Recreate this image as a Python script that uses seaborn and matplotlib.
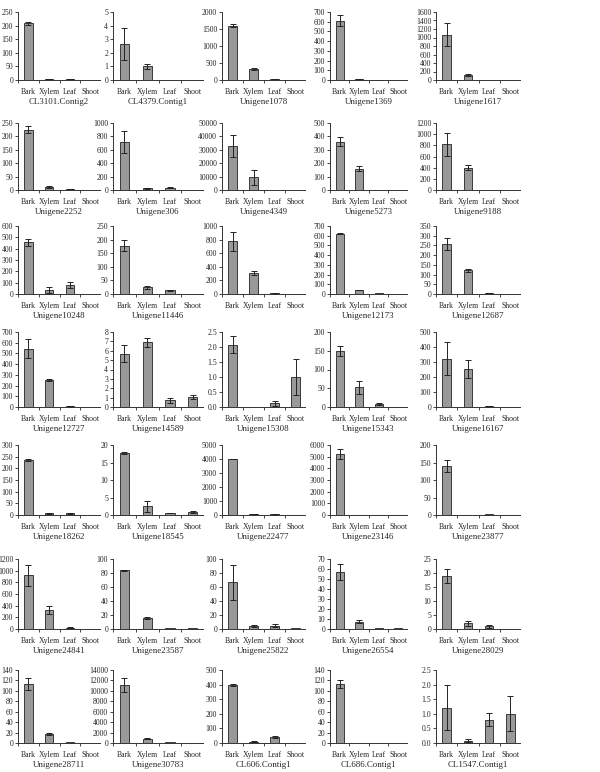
import numpy as np
import pandas as pd
import matplotlib
matplotlib.use("Agg")
import matplotlib.pyplot as plt
import seaborn as sns
from matplotlib.ticker import MultipleLocator, FormatStrFormatter

sns.set_style("ticks")
plt.rcParams["font.family"] = ["Liberation Serif", "DejaVu Serif"]

tissues = ["Bark", "Xylem", "Leaf", "Shoot"]

genes = [
    "CL3101.Contig2", "CL4379.Contig1", "Unigene1078", "Unigene1369", "Unigene1617",
    "Unigene2252", "Unigene306", "Unigene4349", "Unigene5273", "Unigene9188",
    "Unigene10248", "Unigene11446", "", "Unigene12173", "Unigene12687",
    "Unigene12727", "Unigene14589", "Unigene15308", "Unigene15343", "Unigene16167",
    "Unigene18262", "Unigene18545", "Unigene22477", "Unigene23146", "Unigene23877",
    "Unigene24841", "Unigene23587", "Unigene25822", "Unigene26554", "Unigene28029",
    "Unigene28711", "Unigene30783", "CL606.Contig1", "CL686.Contig1", "CL1547.Contig1",
]

y_max = [250, 5, 2000, 700, 1600,
         250, 1000, 50000, 500, 1200,
         600, 250, 1000, 700, 350,
         700, 8, 2.5, 200, 500,
         300, 20, 5000, 6000, 200,
         1200, 100, 100, 70, 25,
         140, 14000, 500, 140, 2.5]

y_step = [50, 1, 500, 100, 200,
          50, 200, 10000, 100, 200,
          100, 50, 200, 100, 50,
          100, 1, 0.5, 50, 100,
          50, 5, 1000, 1000, 50,
          200, 20, 20, 10, 5,
          20, 2000, 100, 20, 0.5]

# mean expression: Bark, Xylem, Leaf, Shoot
means = [
    [208, 3, 3, 1], [2.65, 1.0, 0, 0], [1600, 310, 20, 0], [610, 8, 4, 0], [1070, 110, 8, 0],
    [225, 12, 3, 1], [715, 25, 35, 0], [33000, 9500, 0, 0], [360, 160, 0, 0], [815, 400, 0, 0],
    [455, 35, 80, 0], [178, 25, 13, 0], [775, 310, 8, 0], [620, 40, 8, 0], [258, 122, 5, 0],
    [545, 255, 5, 0], [5.7, 6.9, 0.7, 1.05], [2.08, 0, 0.13, 1.0], [150, 53, 8, 1], [322, 253, 8, 0],
    [235, 7, 7, 0], [17.8, 2.5, 0.6, 0.9], [4000, 50, 40, 0], [5250, 5, 3, 2], [140, 1, 2, 1],
    [920, 330, 20, 0], [84, 16, 2, 1], [67, 4, 5, 1], [57, 7.5, 1, 0.8], [19, 2, 1, 0],
    [113, 17, 2, 0], [11100, 800, 100, 0], [398, 10, 42, 0], [113, 0.5, 0.5, 0], [1.2, 0.08, 0.8, 1.0],
]

errors = [
    [5, 1, 1, 0], [1.2, 0.2, 0, 0], [50, 30, 5, 0], [55, 3, 1, 0], [270, 25, 0, 0],
    [12, 3, 1, 0], [160, 10, 12, 0], [8000, 5500, 0, 0], [35, 18, 0, 0], [200, 40, 0, 0],
    [30, 25, 30, 0], [20, 5, 3, 0], [140, 35, 3, 0], [5, 3, 0, 0], [30, 8, 2, 0],
    [90, 8, 2, 0], [0.9, 0.5, 0.3, 0.2], [0.28, 0, 0.08, 0.6], [13, 17, 2, 0], [110, 60, 2, 0],
    [5, 2, 2, 0], [0.3, 1.6, 0.1, 0.2], [30, 10, 10, 0], [420, 0, 0, 0], [18, 0, 0, 0],
    [180, 70, 8, 0], [1, 1.5, 0, 0], [25, 1.5, 2.5, 0], [8, 1.5, 0, 0], [2.5, 0.8, 0.5, 0],
    [11, 1.5, 0, 0], [1400, 100, 0, 0], [8, 3, 5, 0], [8, 0, 0, 0], [0.77, 0.06, 0.22, 0.6],
]

W, H = 600, 772
fig = plt.figure(figsize=(W / 100, H / 100), dpi=100)

# panel frames in pixels: row (top, bottom), column (left, right)
row_px = [(12, 80), (123, 190), (226, 294), (332, 407), (445, 515), (559, 629), (670, 743)]
col_px = [(18, 100), (113, 203), (222, 305), (330, 407), (436, 520)]

for i, gene in enumerate(genes):
    r, c = divmod(i, 5)
    top, bot = row_px[r]
    left, right = col_px[c]
    ax = fig.add_axes([left / W, 1 - bot / H, (right - left) / W, (bot - top) / H])
    df = pd.DataFrame({"tissue": tissues, "value": means[i]})
    sns.barplot(data=df, x="tissue", y="value", color="#999999", saturation=1,
                edgecolor="#3a3a3a", linewidth=0.7, width=0.4, errorbar=None, ax=ax)
    err = np.array(errors[i])
    idx = np.nonzero(err)[0]
    if len(idx):
        ax.errorbar(idx, np.array(means[i])[idx], yerr=err[idx], fmt="none",
                    ecolor="#222222", elinewidth=0.7, capsize=2, capthick=0.7)
    ax.set_xlim(-0.5, 3.45)
    ax.set_ylim(0, y_max[i])
    ax.yaxis.set_major_locator(MultipleLocator(y_step[i]))
    if y_step[i] < 1:
        ax.yaxis.set_major_formatter(FormatStrFormatter("%.1f"))
    else:
        ax.yaxis.set_major_formatter(FormatStrFormatter("%d"))
    ax.set_xticks([-0.5, 0.5, 1.5, 2.5], minor=True)
    ax.tick_params(axis="x", which="major", length=0, labelsize=5.6, pad=6)
    ax.tick_params(axis="x", which="minor", length=2, width=0.6, direction="out")
    ax.tick_params(axis="y", length=2, width=0.6, labelsize=5.6, pad=1.5)
    ax.set_ylabel("")
    ax.set_xlabel(gene, fontsize=6.4, labelpad=1)
    sns.despine(ax=ax)
    for s in ("left", "bottom"):
        ax.spines[s].set_linewidth(0.7)
        ax.spines[s].set_color("#333333")

fig.savefig("out.png", dpi=100, facecolor="white")
